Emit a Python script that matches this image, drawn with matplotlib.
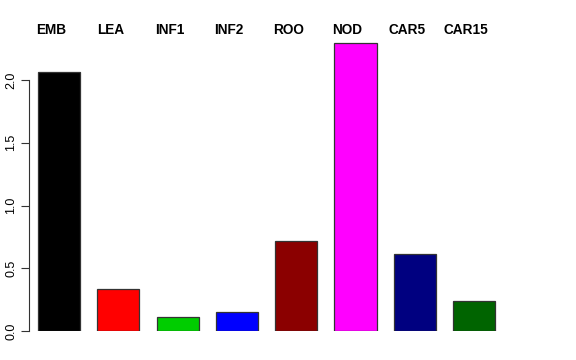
import matplotlib
matplotlib.use("Agg")
import matplotlib.pyplot as plt
import matplotlib.transforms as mtransforms

# tissue names and expression values
tissues = ["EMB", "LEA", "INF1", "INF2", "ROO", "NOD", "CAR5", "CAR15"]
values = [2.064, 0.332, 0.109, 0.151, 0.720, 2.295, 0.611, 0.241]
colors = ["#000000", "#FF0000", "#00CD00", "#0000FF",
          "#8B0000", "#FF00FF", "#000080", "#006400"]
yticks = [0.0, 0.5, 1.0, 1.5, 2.0]

plt.rcParams["font.family"] = ["Liberation Sans", "DejaVu Sans"]

W, H = 576, 360
fig = plt.figure(figsize=(W / 100, H / 100), dpi=100)

# axes placed in pixels: y=0 at row 331, left spine at column 29
left_px, right_px, bottom_px, top_px = 29, 548, 331, 30
ax = fig.add_axes([left_px / W, 1 - bottom_px / H,
                   (right_px - left_px) / W, (bottom_px - top_px) / H])

x = list(range(len(tissues)))
ax.bar(x, values, width=0.71, color=colors, edgecolor="#333333", linewidth=0.9)

unit_x = 59.3
ax.set_xlim((left_px - 59) / unit_x, (right_px - 59) / unit_x)
ax.set_ylim(0, (bottom_px - top_px) / 125.5)

for s in ["top", "right", "bottom"]:
    ax.spines[s].set_visible(False)
ax.spines["left"].set_bounds(0, 2.0)
ax.spines["left"].set_linewidth(0.8)
ax.spines["left"].set_color("#333333")

ax.set_xticks([])
ax.set_yticks(yticks)
ax.set_yticklabels([f"{t:.1f}" for t in yticks], rotation=90, va="center", fontsize=9)
ax.tick_params(axis="y", direction="out", length=5.5, width=0.8, pad=3, color="#333333")

# labels above the bars, sitting a little left of each bar centre
trans = mtransforms.blended_transform_factory(ax.transData, fig.transFigure)
for xi, name in zip(x, tissues):
    ax.text(xi - 8 / unit_x, 1 - 30 / H, name, transform=trans, ha="center", va="center",
            fontsize=9.8, fontweight="bold", clip_on=False)

fig.savefig("out.png", dpi=100)
